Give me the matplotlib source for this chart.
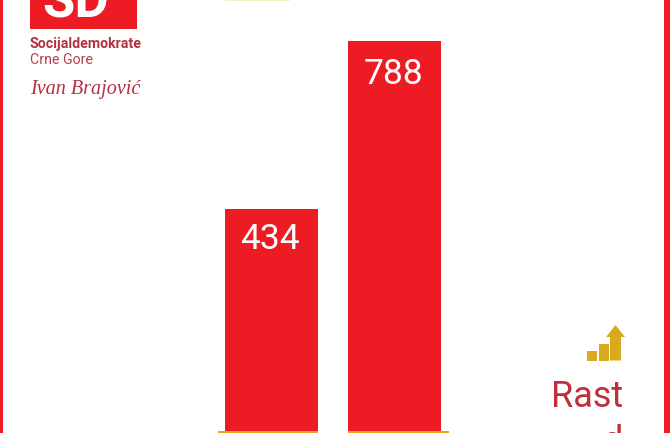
import matplotlib
matplotlib.use("Agg")
import matplotlib.pyplot as plt
from matplotlib.patches import Rectangle, Polygon

categories = ["A", "B"]
values = [434, 788]
value_labels = ["434", "788"]

W, H = 670, 433
RED = "#ed1c24"
GOLD = "#d9aa1e"
TXT = "#c0303c"
LABEL_DROP = [-10, -12.5]

fig = plt.figure(figsize=(W / 100, H / 100), dpi=100, facecolor="white")

# decoration layer, in picture pixels
bg = fig.add_axes([0, 0, 1, 1])
bg.set_xlim(0, W)
bg.set_ylim(H, 0)
bg.axis("off")

# chart layer
ax = fig.add_axes([0, 0, 1, 1], facecolor="none")
ppu = (209 - 41) / (values[1] - values[0])
ax.set_xlim(-271.5 / 123, (W - 271.5) / 123)
ax.set_ylim(values[0] - (H - 209) / ppu, values[1] + 41 / ppu)
ax.axis("off")
base = values[0] - (431 - 209) / ppu
xs = range(len(categories))
ax.bar(xs, [v - base for v in values], bottom=base, width=93 / 123, color=RED, linewidth=0)
for x, v, lab, drop in zip(xs, values, value_labels, LABEL_DROP):
    ax.annotate(lab, (x, v), xytext=(-1, drop), textcoords="offset points",
                ha="center", va="top", color="white", fontsize=25.5, family="Roboto")

# borders
bg.add_patch(Rectangle((0, 0), 3, H, color=RED, lw=0))
bg.add_patch(Rectangle((663.5, 0), 6.5, H, color=RED, lw=0))

# baseline strips
bg.add_patch(Rectangle((218, 431), 100, 2, color="#f0a020", lw=0))
bg.add_patch(Rectangle((348, 431), 101, 2, color="#f0a020", lw=0))
bg.add_patch(Rectangle((225, 0), 65, 1, color="#f6efc0", lw=0))

# logo
bg.add_patch(Rectangle((30, 0), 107, 28.5, color=RED, lw=0))
bg.text(76, 17, "SD", color="white", fontsize=38, fontweight="bold", ha="center",
        va="baseline", family="Roboto")
bg.text(30, 48, "Socijaldemokrate", color="#b5303f", fontsize=10.2, fontweight="bold",
        ha="left", va="baseline", family="Roboto")
bg.text(30, 64, "Crne Gore", color="#b5404c", fontsize=10.2, ha="left", va="baseline",
        family="Roboto")
bg.text(30, 94, "Ivan Brajović", color="#b5303f", fontsize=14.5, style="italic",
        ha="left", va="baseline", family="Liberation Serif")

# growth icon
bg.add_patch(Rectangle((587, 351), 10, 9.5, color=GOLD, lw=0))
bg.add_patch(Rectangle((599, 344), 9.5, 16.5, color=GOLD, lw=0))
bg.add_patch(Polygon([(606, 337), (615.5, 325), (625, 337), (621, 337), (621, 360.5),
                      (610, 360.5), (610, 337)], closed=True, color=GOLD, lw=0))

# side caption
bg.text(623, 407, "Rast", color=TXT, fontsize=26, ha="right", va="baseline", family="Roboto")
bg.text(623, 452, "d", color=TXT, fontsize=26, ha="right", va="baseline", family="Roboto")

fig.savefig("out.png", dpi=100, facecolor="white")
